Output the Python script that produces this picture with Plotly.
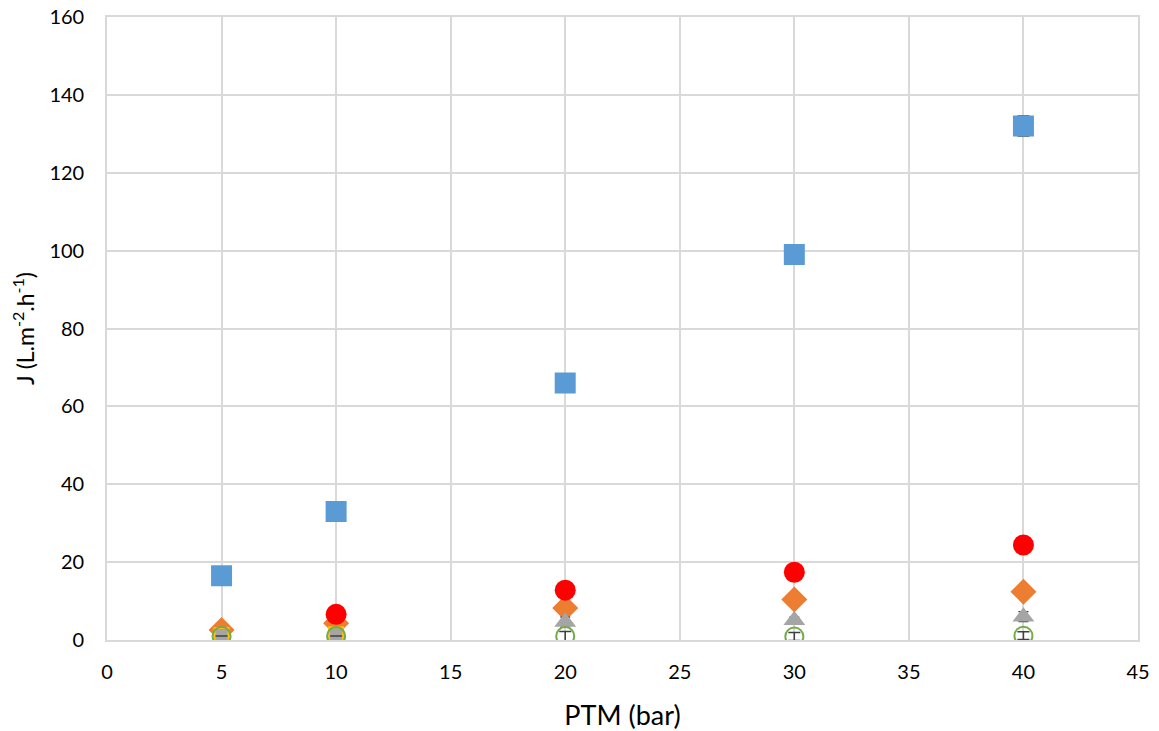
import plotly.graph_objects as go

ptm = [5, 10, 20, 30, 40]

blue_sq = [16.5, 33.0, 66.0, 99.0, 132.0]
blue_err = [0, 0, 0, 0, 2.6]

orange_dia = [2.6, 4.3, 8.2, 10.4, 12.4]

red_x = [10, 20, 30, 40]
red_circ = [6.6, 12.8, 17.4, 24.4]

gray_tri_x = [20, 30, 40]
gray_tri = [4.6, 5.1, 6.0]
gray_tri_err = [1.3, 0.8, 1.3]

gold_sq_x = [5, 10]
gold_sq = [1.3, 1.5]

green_circ = [1.0, 1.0, 1.0, 0.9, 1.1]
green_err = [0, 0, 1.2, 1.0, 1.0]

x_ticks = list(range(0, 46, 5))
y_ticks = list(range(0, 161, 20))

err_color = "#404040"

fig = go.Figure()
fig.add_trace(go.Scatter(
    x=ptm, y=blue_sq, mode="markers",
    marker=dict(symbol="square", size=21, color="#5B9BD5"),
    error_y=dict(type="data", array=blue_err, color=err_color, thickness=1.2, width=6),
))
fig.add_trace(go.Scatter(
    x=ptm, y=orange_dia, mode="markers",
    marker=dict(symbol="diamond", size=20, color="#ED7D31"),
))
fig.add_trace(go.Scatter(
    x=red_x, y=red_circ, mode="markers",
    marker=dict(symbol="circle", size=21, color="#FF0000"),
))
fig.add_trace(go.Scatter(
    x=gray_tri_x, y=gray_tri, mode="markers",
    marker=dict(symbol="triangle-up", size=19, color="#A5A5A5"),
    error_y=dict(type="data", array=gray_tri_err, color=err_color, thickness=1.2, width=5),
))
fig.add_trace(go.Scatter(
    x=gold_sq_x, y=gold_sq, mode="markers",
    marker=dict(symbol="square", size=14, color="#A5A5A5",
                line=dict(color="#FFC000", width=2)),
))
fig.add_trace(go.Scatter(
    x=ptm, y=green_circ, mode="markers",
    marker=dict(symbol="circle-open", size=18, color="#70AD47",
                line=dict(color="#70AD47", width=2)),
    error_y=dict(type="data", array=green_err, color=err_color, thickness=1.5, width=6),
))

font_family = "Lato, Open Sans, sans-serif"

fig.update_layout(
    width=1151, height=723,
    margin=dict(l=99, r=21, t=9, b=91),
    paper_bgcolor="white", plot_bgcolor="white",
    showlegend=False,
    font=dict(family=font_family, size=20, color="#000000"),
    xaxis=dict(
        range=[0, 45], tickvals=x_ticks, ticktext=[str(v) for v in x_ticks],
        showgrid=True, gridcolor="#D9D9D9", gridwidth=1.6,
        zeroline=False, showline=True, linecolor="#D9D9D9", linewidth=1.6, mirror=True,
        ticks="", ticklabelstandoff=13, automargin=False, ticklabeloverflow="allow",
        title=dict(text="PTM (bar)", font=dict(size=27), standoff=24),
    ),
    yaxis=dict(
        range=[0, 160], tickvals=y_ticks, ticktext=[str(v) for v in y_ticks],
        showgrid=True, gridcolor="#D9D9D9", gridwidth=1.6,
        zeroline=False, showline=True, linecolor="#D9D9D9", linewidth=1.6, mirror=True,
        ticks="", ticklabelstandoff=17, automargin=False, ticklabeloverflow="allow",
        title=dict(text="J (L.m<sup>-2</sup>.h<sup>-1</sup>)", font=dict(size=23), standoff=20),
    ),
)

fig.write_html("out.html")
